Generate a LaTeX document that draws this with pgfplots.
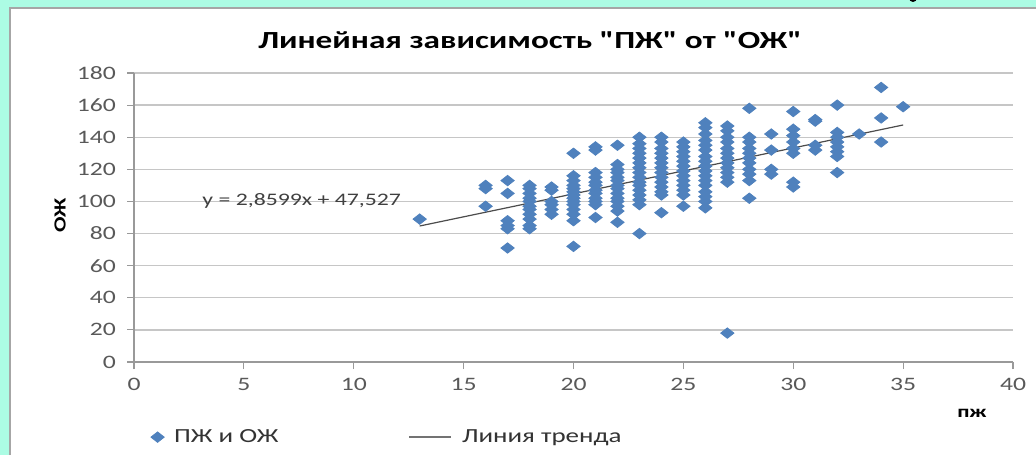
\documentclass[border=0pt]{standalone}
\usepackage{pgfplots}
\pgfplotsset{compat=1.18}
\usepackage{fontspec}
\setmainfont{Carlito}[FakeStretch=1.35]
\newfontfamily\titlefont{Carlito}[FakeStretch=1.35,Ligatures=TeXOff]
\definecolor{bgcyan}{RGB}{172,252,228}
\definecolor{mblue}{RGB}{79,129,189}
\definecolor{ticktxt}{RGB}{89,89,89}
\pgfplotstableread{
x y
13 89
16 110
16 108
16 97
17 113
17 105
17 88
17 85
17 83
17 71
18 110
18 108
18 105
18 102
18 100
18 97
18 95
18 92
18 89
18 85
18 83
19 109
19 107
19 100
19 98
19 95
19 92
20 130
20 116
20 113
20 110
20 108
20 106
20 104
20 102
20 100
20 98
20 95
20 92
20 88
20 72
21 134
21 132
21 118
21 115
21 112
21 110
21 107
21 105
21 102
21 100
21 98
21 90
22 135
22 123
22 120
22 118
22 115
22 113
22 110
22 108
22 105
22 102
22 100
22 97
22 94
22 87
23 140
23 136
23 133
23 130
23 127
23 124
23 121
23 118
23 115
23 112
23 110
23 107
23 104
23 101
23 98
23 80
24 140
24 137
24 133
24 130
24 127
24 124
24 121
24 118
24 115
24 112
24 109
24 106
24 104
24 93
25 137
25 134
25 131
25 128
25 125
25 122
25 119
25 116
25 113
25 110
25 107
25 104
25 97
26 149
26 146
26 142
26 138
26 135
26 132
26 128
26 125
26 122
26 119
26 116
26 113
26 110
26 106
26 103
26 100
26 96
27 147
27 144
27 140
27 137
27 133
27 130
27 127
27 124
27 121
27 118
27 115
27 112
27 18
28 158
28 140
28 137
28 133
28 130
28 127
28 124
28 120
28 117
28 113
28 102
29 142
29 132
29 120
29 117
30 156
30 145
30 141
30 137
30 133
30 130
30 112
30 109
31 151
31 150
31 135
31 132
32 160
32 143
32 140
32 137
32 134
32 131
32 128
32 118
33 142
34 171
34 152
34 137
35 159
}\pzdata
\begin{document}
\begin{tikzpicture}
\useasboundingbox (0,0) rectangle (518pt,227.5pt);
\fill[bgcyan] (0,0) rectangle (518pt,227.5pt);
\fill[white] (5pt,0) rectangle (518pt,223.5pt);
\draw[gray!70, line width=1pt] (5pt,0) -- (5pt,223.5pt) -- (518pt,223.5pt);
\fill[black] (456.5pt,228.5pt) circle (2pt);
\begin{axis}[
  at={(67pt,46.5pt)}, anchor=south west,
  scale only axis, width=439.5pt, height=144.5pt,
  xmin=0, xmax=40, ymin=0, ymax=180,
  xtick={0,5,...,40}, ytick={0,20,...,180},
  axis x line*=bottom, axis y line*=left,
  axis line style={draw=gray!80, line width=0.6pt},
  ymajorgrids, grid style={gray!45, line width=0.7pt},
  tick align=outside, major tick length=3.5pt,
  tick style={gray!80, line width=0.6pt},
  ticklabel style={font=\fontsize{9.5}{11}\selectfont, text=ticktxt},
  yticklabel style={xshift=-2pt},
  xticklabel style={yshift=-1pt},
  /pgf/number format/assume math mode=true,
  clip=false,
  legend style={at={(axis description cs:0.012,-0.26)}, anchor=west, draw=none, fill=none,
    font=\fontsize{10}{12}\selectfont, text=black!80,
    /tikz/every odd column/.append style={column sep=3pt},
    /tikz/every even column/.append style={column sep=63pt}},
  legend columns=2,
]
\addplot[only marks, mark=diamond*, mark size=2.6pt, mark options={xscale=1.7, fill=mblue, draw=mblue}] table[x=x,y=y] {\pzdata};
\addlegendentry{ПЖ и ОЖ}
\addplot[black!70, line width=0.6pt, legend image code/.code={\draw[black!55, line width=0.8pt] (0pt,0pt) -- (21pt,0pt);}] coordinates {(13,84.7057) (35,147.6235)};
\addlegendentry{Линия тренда}
\node[anchor=east, font=\fontsize{8.8}{10}\selectfont, text=black!75] at (axis cs:12.47,100.2) {y = 2,8599x + 47,527};
\end{axis}
\node[font=\titlefont\bfseries\fontsize{12.3}{14}\selectfont] at (265pt,207.5pt) {Линейная зависимость "ПЖ" от "ОЖ"};
\node[rotate=90, font=\bfseries\fontsize{8.5}{10}\selectfont] at (30pt,120pt) {ОЖ};
\node[font=\bfseries\fontsize{8.5}{10}\selectfont] at (486pt,21pt) {пж};
\end{tikzpicture}
\end{document}
